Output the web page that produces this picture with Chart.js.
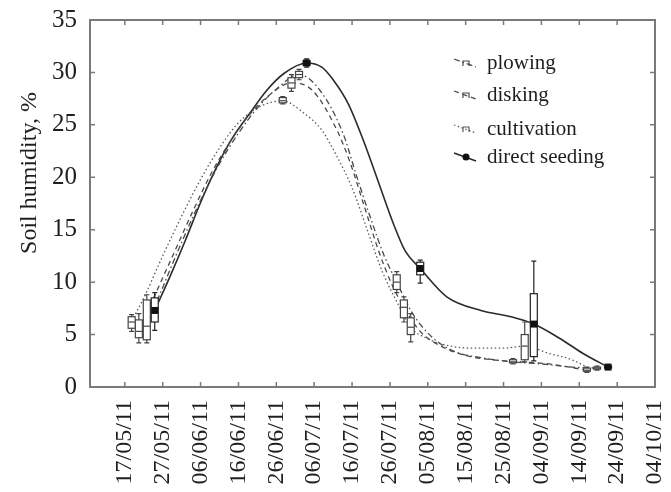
<!DOCTYPE html>
<html>
<head>
<meta charset="utf-8">
<script src="https://cdn.jsdelivr.net/npm/chart.js@4.4.1/dist/chart.umd.min.js"></script>
<style>
html, body { margin: 0; padding: 0; background: #fff; }
</style>
</head>
<body>
<canvas id="grafico" width="671" height="492"></canvas>
<script>
// tick labels, one every 10 days starting 17/05/11 (x value = days since 17/05/11)
const tickLabels = ["17/05/11", "27/05/11", "06/06/11", "16/06/11", "26/06/11", "06/07/11", "16/07/11",
    "26/07/11", "05/08/11", "15/08/11", "25/08/11", "04/09/11", "14/09/11", "24/09/11", "04/10/11"];
const yTicks = [0, 5, 10, 15, 20, 25, 30, 35];

const seriesNames = ["plowing", "disking", "cultivation", "direct seeding"];

const plowingDays = [5.8, 10, 15, 20, 25, 30, 35, 40, 46, 51.5, 57.6, 61.3, 65, 68.5, 71.8, 76, 81, 87, 94, 102.5, 110, 118, 124.7];
const plowingValues = [5.8, 9.5, 13.8, 17.8, 21.3, 24.2, 26.6, 28.4, 29.8, 28.3, 24.2, 20, 16, 12.5, 10, 7, 4.8, 3.4, 2.8, 2.4, 2.2, 1.9, 1.8];

const diskingDays = [3.7, 8, 13, 18, 23, 28, 33, 38, 44, 49.5, 56, 59.5, 63, 67, 70.5, 73.7, 78, 84, 90, 97, 104, 112, 122];
const diskingValues = [5.3, 8.8, 12.8, 16.8, 20.5, 23.5, 26, 27.8, 29, 28.3, 24.5, 21.4, 17.5, 13, 9.8, 7.6, 5.3, 3.8, 3.0, 2.6, 2.4, 2.2, 1.6];

const cultivationDays = [1.8, 5, 10, 15, 20, 25, 30, 36, 41.7, 47, 52, 56, 60, 64, 68, 72, 75.5, 80, 86, 93, 100, 105.6, 112, 118, 123];
const cultivationValues = [6.3, 8.5, 12.5, 16.3, 19.8, 22.8, 25.2, 26.8, 27.3, 26.2, 24.5, 22, 19, 15, 11, 8, 5.7, 4.6, 3.9, 3.7, 3.7, 3.9, 3.2, 2.6, 1.7];

const directDays = [7.9, 12, 16, 20, 24, 28.5, 33, 37.5, 42, 48, 52, 55, 59, 63, 67, 71, 74, 78, 85, 94, 102, 108, 115, 121, 127.6];
const directValues = [7.3, 10.6, 14, 17.6, 20.8, 23.8, 26.1, 28.3, 29.9, 30.9, 30.5, 29.3, 27, 23.5, 19.5, 15.5, 13, 11.3, 8.6, 7.3, 6.7, 6.0, 4.6, 3.2, 1.9];

// box plots: [day, min, q1, median, q3, max]
const plowingBoxes = [[5.8, 4.2, 4.5, 5.8, 8.3, 8.8], [46, 29.3, 29.5, 29.8, 30.1, 30.3], [71.8, 9.0, 9.3, 10, 10.7, 11], [102.5, 2.2, 2.3, 2.4, 2.6, 2.7], [124.7, 1.6, 1.7, 1.8, 1.9, 2.0]];
const diskingBoxes = [[3.7, 4.2, 4.7, 5.3, 6.4, 7.0], [44, 28.2, 28.5, 29, 29.5, 29.8], [73.7, 6.2, 6.6, 7.6, 8.3, 8.6], [122, 1.4, 1.5, 1.6, 1.8, 1.9]];
const cultivationBoxes = [[1.8, 5.3, 5.6, 6.2, 6.7, 6.9], [41.7, 27.0, 27.1, 27.3, 27.6, 27.7], [75.5, 4.3, 5.0, 5.7, 6.6, 7.0], [105.6, 2.4, 2.6, 3.9, 5.0, 6.2]];
const directBoxes = [[7.9, 5.4, 6.2, 7.3, 8.5, 9.0], [48, 30.5, 30.7, 30.9, 31.1, 31.3], [78, 9.9, 10.7, 11.3, 11.9, 12.1], [108, 2.5, 2.9, 6.0, 8.9, 12.0], [127.6, 1.7, 1.8, 1.9, 2.0, 2.1]];

const serif = '"Liberation Serif", "DejaVu Serif", serif';
const axisColor = "#7a7a7a";
const textColor = "#1e1e1e";

function puntos(dias, valores) {
    return dias.map((d, i) => ({ x: d, y: valores[i] }));
}

function serie(label, dias, valores, cajas, color, dash, width) {
    return {
        label: label,
        data: puntos(dias, valores),
        borderColor: color,
        backgroundColor: color,
        borderWidth: width,
        borderDash: dash,
        pointRadius: 0,
        cubicInterpolationMode: "monotone",
        fill: false,
        cajas: cajas
    };
}

const marco = {
    id: "marco",
    afterDraw(chart) {
        const { ctx, chartArea: a, scales: { x, y } } = chart;
        ctx.save();
        ctx.strokeStyle = axisColor;
        ctx.lineWidth = 2;
        ctx.strokeRect(a.left, a.top, a.right - a.left, a.bottom - a.top);
        ctx.lineWidth = 1.5;
        ctx.beginPath();
        x.ticks.forEach(t => {
            const px = x.getPixelForValue(t.value);
            ctx.moveTo(px, a.bottom); ctx.lineTo(px, a.bottom - 5);
            ctx.moveTo(px, a.top); ctx.lineTo(px, a.top + 5);
        });
        y.ticks.forEach(t => {
            const py = y.getPixelForValue(t.value);
            ctx.moveTo(a.left, py); ctx.lineTo(a.left + 5, py);
            ctx.moveTo(a.right, py); ctx.lineTo(a.right - 5, py);
        });
        ctx.stroke();

        // y axis title
        ctx.fillStyle = textColor;
        ctx.font = "24px " + serif;
        ctx.textAlign = "center";
        ctx.textBaseline = "middle";
        ctx.translate(30, a.top + 153);
        ctx.rotate(-Math.PI / 2);
        ctx.fillText("Soil humidity, %", 0, 0);
        ctx.restore();
    }
};

function marcador(ctx, px, py, i) {
    if (i === 3) {
        ctx.fillStyle = "#111";
        ctx.fillRect(px - 3.5, py - 3.5, 7, 7);
    } else {
        ctx.beginPath();
        ctx.moveTo(px - 3, py);
        ctx.lineTo(px + 3, py);
        ctx.stroke();
    }
}

const cajas = {
    id: "cajas",
    afterDatasetsDraw(chart) {
        const { ctx, scales: { x, y } } = chart;
        ctx.save();
        chart.data.datasets.forEach((ds, i) => {
            ctx.strokeStyle = i === 3 ? "#222" : "#444";
            ctx.lineWidth = 1.2;
            ctx.setLineDash([]);
            ds.cajas.forEach(c => {
                const px = x.getPixelForValue(c[0]);
                const yMin = y.getPixelForValue(c[1]);
                const yQ1 = y.getPixelForValue(c[2]);
                const yMed = y.getPixelForValue(c[3]);
                const yQ3 = y.getPixelForValue(c[4]);
                const yMax = y.getPixelForValue(c[5]);
                ctx.beginPath();
                ctx.moveTo(px, yMin); ctx.lineTo(px, yMax);
                ctx.moveTo(px - 2.5, yMin); ctx.lineTo(px + 2.5, yMin);
                ctx.moveTo(px - 2.5, yMax); ctx.lineTo(px + 2.5, yMax);
                ctx.stroke();
                ctx.fillStyle = "#fff";
                ctx.fillRect(px - 3.5, yQ3, 7, yQ1 - yQ3);
                ctx.strokeRect(px - 3.5, yQ3, 7, yQ1 - yQ3);
                marcador(ctx, px, yMed, i);
            });
        });
        ctx.restore();
    }
};

const leyenda = {
    id: "leyenda",
    afterDraw(chart) {
        const { ctx, chartArea: a } = chart;
        const filas = [43, 75, 109, 137];
        ctx.save();
        ctx.font = "21px " + serif;
        ctx.textBaseline = "middle";
        ctx.textAlign = "left";
        chart.data.datasets.forEach((ds, i) => {
            const yc = a.top + filas[i];
            const xc = a.left + 376;
            ctx.strokeStyle = ds.borderColor;
            ctx.lineWidth = ds.borderWidth;
            ctx.setLineDash(ds.borderDash);
            ctx.beginPath();
            ctx.moveTo(xc - 12, yc - 4);
            ctx.lineTo(xc + 10, yc + 4);
            ctx.stroke();
            ctx.setLineDash([]);
            ctx.lineWidth = 1.2;
            if (i === 3) {
                ctx.fillStyle = "#111";
                ctx.beginPath();
                ctx.arc(xc, yc, 3.5, 0, Math.PI * 2);
                ctx.fill();
            } else {
                ctx.beginPath();
                ctx.moveTo(xc - 3, yc + 3);
                ctx.lineTo(xc - 3, yc - 2);
                ctx.lineTo(xc + 3, yc - 2);
                ctx.lineTo(xc + 3, yc + 3);
                ctx.stroke();
            }
            ctx.fillStyle = textColor;
            ctx.fillText(ds.label, a.left + 397, yc);
        });
        ctx.restore();
    }
};

new Chart(document.getElementById("grafico"), {
    type: "line",
    data: {
        datasets: [
            serie(seriesNames[0], plowingDays, plowingValues, plowingBoxes, "#4a4a4a", [6, 3, 1.5, 3], 1.3),
            serie(seriesNames[1], diskingDays, diskingValues, diskingBoxes, "#4a4a4a", [5, 4], 1.3),
            serie(seriesNames[2], cultivationDays, cultivationValues, cultivationBoxes, "#5a5a5a", [1.5, 2.5], 1.3),
            serie(seriesNames[3], directDays, directValues, directBoxes, "#2a2a2a", [], 1.6)
        ]
    },
    options: {
        responsive: false,
        animation: false,
        layout: { padding: { left: 0, right: 16, top: 20, bottom: 0 } },
        plugins: {
            legend: { display: false },
            tooltip: { enabled: false }
        },
        scales: {
            x: {
                type: "linear",
                min: -9.2,
                max: 140,
                afterBuildTicks: s => { s.ticks = tickLabels.map((_, i) => ({ value: i * 10 })); },
                afterFit: s => { s.height = 105; s.paddingLeft = 0; s.paddingRight = 0; },
                grid: { display: false, drawTicks: false },
                border: { display: false },
                ticks: {
                    autoSkip: false,
                    minRotation: 90,
                    maxRotation: 90,
                    padding: 13,
                    color: textColor,
                    font: { family: serif, size: 24 },
                    callback: v => tickLabels[Math.round(v / 10)]
                }
            },
            y: {
                min: 0,
                max: 35,
                afterBuildTicks: s => { s.ticks = yTicks.map(v => ({ value: v })); },
                afterFit: s => { s.width = 90; s.paddingTop = 0; s.paddingBottom = 0; },
                grid: { display: false, drawTicks: false },
                border: { display: false },
                ticks: {
                    padding: 13,
                    color: textColor,
                    font: { family: serif, size: 25 }
                }
            }
        }
    },
    plugins: [cajas, marco, leyenda]
});
</script>
</body>
</html>
